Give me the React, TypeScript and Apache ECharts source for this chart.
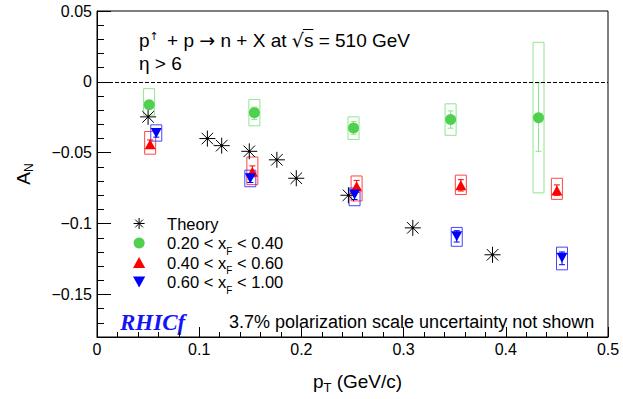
import React, { useEffect, useRef } from 'react';
import * as echarts from 'echarts';

// Theory curve (asterisks)
const theoryPt = [0.050, 0.108, 0.122, 0.149, 0.176, 0.195, 0.246, 0.309, 0.387];
const theoryAN = [-0.0247, -0.040, -0.045, -0.049, -0.055, -0.068, -0.080, -0.103, -0.122];

// 0.20 < xF < 0.40
const lowPt = [0.051, 0.154, 0.251, 0.346, 0.432];
const lowAN = [-0.0162, -0.0217, -0.0326, -0.0265, -0.0253];
const lowStatLo = [-0.0185, -0.0265, -0.037, -0.0327, -0.049];
const lowStatHi = [-0.014, -0.0178, -0.028, -0.0205, -0.0007];
const lowSysLo = [-0.0235, -0.031, -0.0406, -0.0377, -0.0783];
const lowSysHi = [-0.0048, -0.0125, -0.0247, -0.0155, 0.0279];

// 0.40 < xF < 0.60
const midPt = [0.052, 0.152, 0.254, 0.356, 0.450];
const midAN = [-0.044, -0.0635, -0.0737, -0.073, -0.0767];
const midStatLo = [-0.047, -0.067, -0.078, -0.077, -0.080];
const midStatHi = [-0.041, -0.0593, -0.0695, -0.069, -0.0727];
const midSysLo = [-0.051, -0.0725, -0.084, -0.0795, -0.0829];
const midSysHi = [-0.035, -0.053, -0.0664, -0.0658, -0.068];

// 0.60 < xF < 1.00
const highPt = [0.058, 0.150, 0.252, 0.352, 0.455];
const highAN = [-0.036, -0.068, -0.0795, -0.109, -0.124];
const highStatLo = [-0.039, -0.071, -0.083, -0.113, -0.129];
const highStatHi = [-0.033, -0.065, -0.076, -0.105, -0.120];
const highSysLo = [-0.0418, -0.074, -0.0874, -0.116, -0.1326];
const highSysHi = [-0.0303, -0.0623, -0.0749, -0.1027, -0.1166];

const seriesNames = ['Theory', '0.20 < xF < 0.40', '0.40 < xF < 0.60', '0.60 < xF < 1.00'];
const xTicks = [0, 0.1, 0.2, 0.3, 0.4, 0.5];

const FONT = "'Liberation Sans', Arial, Helvetica, sans-serif";
const SYM_FONT = "'DejaVu Sans', sans-serif";
const GREEN = '#4fd14f';
const GREEN_BOX = '#8fe68f';
const RED = '#ff0000';
const RED_BOX = '#ff4545';
const BLUE = '#0000ff';
const BLUE_BOX = '#4545ff';
const TRI_UP = 'path://M5,0L10,9L0,9Z';
const TRI_DOWN = 'path://M0,0L10,0L5,9Z';

const zip2 = (a: number[], b: number[]) => a.map((v, i) => [v, b[i]]);
const zip3 = (a: number[], b: number[], c: number[]) => a.map((v, i) => [v, b[i], c[i]]);

const boxItem = (color: string) => (params: any, api: any) => {
  const x = api.value(0);
  const top = api.coord([x, api.value(2)]);
  const bot = api.coord([x, api.value(1)]);
  return {
    type: 'rect',
    shape: { x: top[0] - 5.5, y: top[1], width: 11, height: bot[1] - top[1] },
    style: { fill: 'none', stroke: color, lineWidth: 1 },
  };
};

const errItem = (color: string) => (params: any, api: any) => {
  const x = api.value(0);
  const a = api.coord([x, api.value(2)]);
  const b = api.coord([x, api.value(1)]);
  const s = { stroke: color, lineWidth: 1 };
  return {
    type: 'group',
    children: [
      { type: 'line', shape: { x1: a[0], y1: a[1], x2: b[0], y2: b[1] }, style: s },
      { type: 'line', shape: { x1: a[0] - 3, y1: a[1], x2: a[0] + 3, y2: a[1] }, style: s },
      { type: 'line', shape: { x1: b[0] - 3, y1: b[1], x2: b[0] + 3, y2: b[1] }, style: s },
    ],
  };
};

const starItem = (params: any, api: any) => {
  const c = api.coord([api.value(0), api.value(1)]);
  const r = 8;
  const d = r * 0.72;
  const s = { stroke: '#000', lineWidth: 1 };
  return {
    type: 'group',
    children: [
      { type: 'line', shape: { x1: c[0] - r, y1: c[1], x2: c[0] + r, y2: c[1] }, style: s },
      { type: 'line', shape: { x1: c[0], y1: c[1] - r, x2: c[0], y2: c[1] + r }, style: s },
      { type: 'line', shape: { x1: c[0] - d, y1: c[1] - d, x2: c[0] + d, y2: c[1] + d }, style: s },
      { type: 'line', shape: { x1: c[0] - d, y1: c[1] + d, x2: c[0] + d, y2: c[1] - d }, style: s },
      { type: 'circle', shape: { cx: c[0], cy: c[1], r: 1.3 }, style: { fill: '#000' } },
    ],
  };
};

function measure(text: string, font: string): number {
  const cv = document.createElement('canvas');
  const ctx = cv.getContext('2d');
  if (!ctx) return text.length * 9;
  ctx.font = font;
  return ctx.measureText(text).width;
}

export default function App() {
  const ref = useRef<HTMLDivElement>(null);

  useEffect(() => {
    document.body.style.margin = '0';
    if (!ref.current) return;
    const chart = echarts.init(ref.current, undefined, { renderer: 'svg' });

    const TITLE_X = 139;
    const TITLE_SIZE = 19;
    const SUP_SIZE = 11;
    const mainFont = `${TITLE_SIZE}px 'Liberation Sans'`;
    const symFont = `${TITLE_SIZE}px 'DejaVu Sans'`;
    const supFont = `${SUP_SIZE}px 'DejaVu Sans'`;
    const before =
      measure('p', mainFont) + measure('\u2191', supFont) + 3 +
      measure(' + p ', mainFont) + measure('\u2192', symFont) +
      measure(' n + X at ', mainFont) + measure('\u221A', symFont);
    const sW = measure('s', mainFont);
    const olX1 = TITLE_X + before - 1;
    const olX2 = TITLE_X + before + sW;

    const option: any = {
      animation: false,
      backgroundColor: '#fff',
      grid: {
        left: 97, right: 15, top: 11, bottom: 52,
        show: true, borderColor: '#000', borderWidth: 1, backgroundColor: 'transparent',
      },
      xAxis: {
        type: 'value', min: 0, max: 0.5, interval: 0.1,
        axisLine: { show: true, onZero: false, lineStyle: { color: '#000', width: 1 } },
        axisTick: { show: true, inside: true, length: 10, lineStyle: { color: '#000' } },
        minorTick: { show: true, splitNumber: 5, length: 5, lineStyle: { color: '#000' } },
        splitLine: { show: false },
        axisLabel: {
          margin: 4, color: '#000', fontFamily: FONT, fontSize: 16,
          formatter: (v: number) => {
            const t = xTicks.find((k) => Math.abs(k - v) < 1e-9);
            return t === undefined ? '' : String(t);
          },
        },
        name: '{a|p}{sub|T}{a| (GeV/c)}',
        nameLocation: 'middle',
        nameGap: 31,
        nameTextStyle: {
          color: '#000', fontFamily: FONT, fontSize: 19, padding: [0, 0, 0, 10],
          rich: {
            a: { fontFamily: FONT, fontSize: 19, lineHeight: 26, verticalAlign: 'middle', color: '#000' },
            sub: { fontFamily: FONT, fontSize: 13, lineHeight: 13, verticalAlign: 'bottom', color: '#000' },
          },
        },
      },
      yAxis: [
        {
          type: 'value', min: -0.18, max: 0.05, splitNumber: 5,
          axisLine: { show: true, onZero: false, lineStyle: { color: '#000', width: 1 } },
          axisTick: { show: true, inside: true, length: 14, lineStyle: { color: '#000' } },
          splitLine: { show: false },
          axisLabel: {
            margin: 5, color: '#000', fontFamily: FONT, fontSize: 16, showMinLabel: false,
            formatter: (v: number) => {
              const r = Math.round(v * 100) / 100;
              if (r === 0) return '0';
              return String(r).replace('-', '\u2212');
            },
          },
          name: '{a|A}{sub|N}',
          nameLocation: 'middle',
          nameGap: 62,
          nameRotate: 90,
          nameTextStyle: {
            color: '#000', fontFamily: FONT, fontSize: 19,
            rich: {
              a: { fontFamily: FONT, fontSize: 19, lineHeight: 24, verticalAlign: 'middle', color: '#000' },
              sub: { fontFamily: FONT, fontSize: 12, lineHeight: 12, verticalAlign: 'bottom', color: '#000' },
            },
          },
        },
        {
          type: 'value', min: -0.18, max: 0.05, interval: 0.01, position: 'left',
          axisLine: { show: false, onZero: false },
          axisTick: { show: true, inside: true, length: 7, lineStyle: { color: '#000' } },
          axisLabel: { show: false },
          splitLine: { show: false },
        },
      ],
      legend: {
        orient: 'vertical', left: 133, top: 215, padding: 0, itemGap: -2,
        itemWidth: 46, itemHeight: 11,
        textStyle: {
          color: '#000', fontFamily: FONT, fontSize: 16.5, lineHeight: 16,
          rich: {
            n: { fontFamily: FONT, fontSize: 16.5, lineHeight: 16, verticalAlign: 'middle', color: '#000' },
            sub: { fontFamily: FONT, fontSize: 10, lineHeight: 8, verticalAlign: 'bottom', color: '#000', padding: [0, 0, -5, 0] },
          },
        },
        formatter: (name: string) => {
          const parts = name.split('xF');
          return parts.length === 2 ? `{n|${parts[0]}x}{sub|F}{n|${parts[1]}}` : `{n|${name}}{sub| }`;
        },
        data: [
          {
            name: seriesNames[0],
            icon: 'path://M0,12L24,12M12,0L12,24M3.5,3.5L20.5,20.5M20.5,3.5L3.5,20.5',
            itemStyle: { color: 'transparent', borderColor: '#000', borderWidth: 1 },
          },
          { name: seriesNames[1] },
          { name: seriesNames[2] },
          { name: seriesNames[3] },
        ],
      },
      graphic: [
        {
          type: 'text', x: TITLE_X, y: 40,
          style: {
            text: 'p{sup|\u2191} + p {sym|\u2192} n + X at {sym|\u221A}s = 510 GeV',
            fill: '#000', fontFamily: FONT, fontSize: TITLE_SIZE, verticalAlign: 'middle',
            rich: {
              sup: { fontFamily: SYM_FONT, fontSize: SUP_SIZE, lineHeight: 11, verticalAlign: 'top', fill: '#000', padding: [0, 3, 0, 0] },
              sym: { fontFamily: SYM_FONT, fontSize: TITLE_SIZE, fill: '#000' },
            },
          },
        },
        { type: 'line', shape: { x1: olX1, y1: 29.5, x2: olX2, y2: 29.5 }, style: { stroke: '#000', lineWidth: 1 } },
        {
          type: 'text', x: TITLE_X, y: 63,
          style: { text: '\u03B7 > 6', fill: '#000', fontFamily: FONT, fontSize: TITLE_SIZE, verticalAlign: 'middle' },
        },
        {
          type: 'text', x: 120, y: 322,
          style: {
            text: 'RHICf', fill: '#1414f5', fontFamily: "'Liberation Serif', 'Times New Roman', serif",
            fontSize: 23, fontWeight: 'bold', fontStyle: 'italic', verticalAlign: 'middle',
          },
        },
        {
          type: 'text', x: 229, y: 322,
          style: {
            text: '3.7% polarization scale uncertainty not shown', fill: '#000',
            fontFamily: FONT, fontSize: 18, verticalAlign: 'middle',
          },
        },
      ],
      series: [
        { type: 'custom', name: 'lowSys', renderItem: boxItem(GREEN_BOX), data: zip3(lowPt, lowSysLo, lowSysHi), z: 2, silent: true,
          markLine: {
            silent: true, symbol: 'none', label: { show: false },
            lineStyle: { color: '#000', type: 'dashed', width: 1 },
            data: [{ yAxis: 0 }],
          },
        },
        { type: 'custom', name: 'midSys', renderItem: boxItem(RED_BOX), data: zip3(midPt, midSysLo, midSysHi), z: 2, silent: true },
        { type: 'custom', name: 'highSys', renderItem: boxItem(BLUE_BOX), data: zip3(highPt, highSysLo, highSysHi), z: 2, silent: true },
        { type: 'custom', name: 'lowStat', renderItem: errItem(GREEN_BOX), data: zip3(lowPt, lowStatLo, lowStatHi), z: 3, silent: true },
        { type: 'custom', name: 'midStat', renderItem: errItem(RED), data: zip3(midPt, midStatLo, midStatHi), z: 3, silent: true },
        { type: 'custom', name: 'highStat', renderItem: errItem(BLUE), data: zip3(highPt, highStatLo, highStatHi), z: 3, silent: true },
        { type: 'custom', name: seriesNames[0], renderItem: starItem, data: zip2(theoryPt, theoryAN), z: 4, silent: true, itemStyle: { color: '#000' } },
        { type: 'scatter', name: seriesNames[1], data: zip2(lowPt, lowAN), symbol: 'circle', symbolSize: 11, itemStyle: { color: GREEN, opacity: 1 }, z: 5 },
        { type: 'scatter', name: seriesNames[2], data: zip2(midPt, midAN), symbol: TRI_UP, symbolSize: [11, 10], itemStyle: { color: RED, opacity: 1 }, z: 5 },
        { type: 'scatter', name: seriesNames[3], data: zip2(highPt, highAN), symbol: TRI_DOWN, symbolSize: [11, 10], itemStyle: { color: BLUE, opacity: 1 }, z: 5 },
      ],
    };

    chart.setOption(option);
    return () => chart.dispose();
  }, []);

  return <div ref={ref} style={{ width: 623, height: 399 }} />;
}
